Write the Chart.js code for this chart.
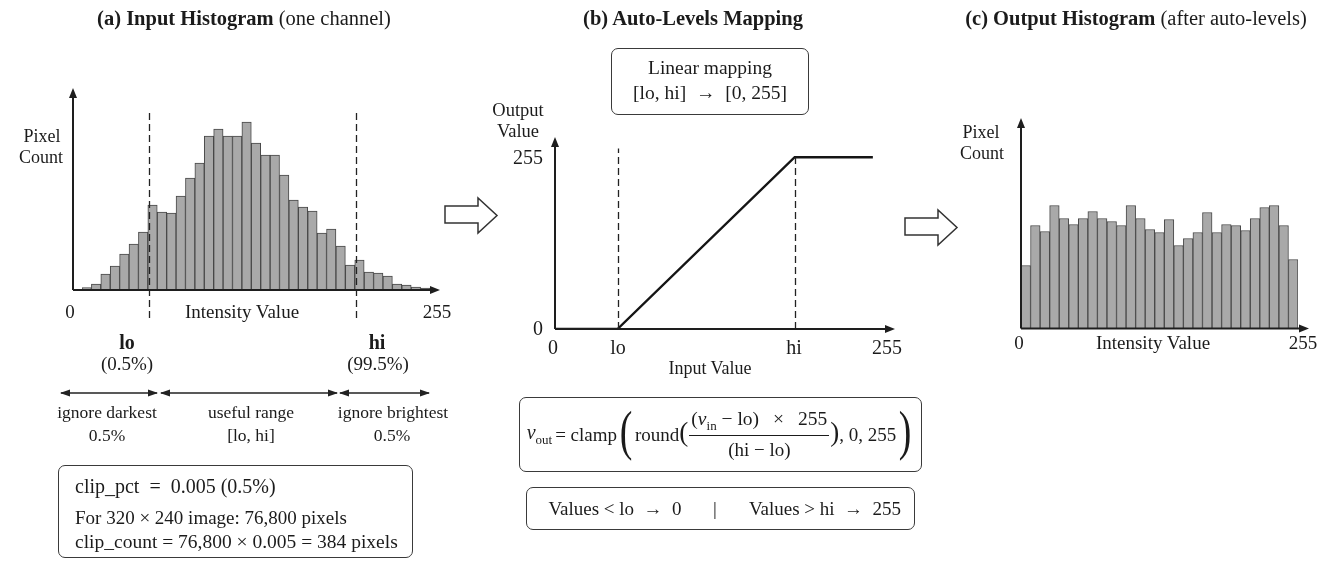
<!DOCTYPE html>
<html>
<head>
<meta charset="utf-8">
<script src="https://cdn.jsdelivr.net/npm/chart.js@4.4.1/dist/chart.umd.min.js"></script>
<style>
  body { margin: 0; background: #fff; }
  #page { position: relative; width: 1317px; height: 561px; overflow: hidden;
          font-family: "Liberation Serif", "Times New Roman", serif; color: #1b1b1b; }
  .cv { position: absolute; }
  .lbl { position: absolute; transform: translate(-50%, -50%); white-space: nowrap; line-height: 1; font-size: 19px; }
  .left { transform: translate(0, -50%); }
  .box { position: absolute; border: 1.5px solid #3a3a3a; border-radius: 7px; box-sizing: border-box; }
  #formulaBox { display: flex; align-items: center; justify-content: center; font-size: 19px; white-space: nowrap; }
  .bigp { font-size: 54px; line-height: 1; transform: scaleX(0.7); margin-top: -8px; }
  .midp { font-size: 27px; line-height: 1; margin-top: -4px; }
  .frac { display: inline-flex; flex-direction: column; align-items: center; margin: 0 1px; }
  .num { display: flex; justify-content: space-between; width: 136px; font-size: 19.5px;
         border-bottom: 1.2px solid #1b1b1b; padding: 0 2px 2px; }
  .den { padding-top: 3px; font-size: 19px; }
  sub { font-size: 13px; }
  svg { position: absolute; left: 0; top: 0; }
</style>
</head>
<body>
<div id="page">
  <canvas id="histIn" class="cv" width="390" height="240" style="left:60px;top:80px"></canvas>
  <canvas id="mapping" class="cv" width="370" height="210" style="left:540px;top:130px"></canvas>
  <canvas id="histOut" class="cv" width="317" height="230" style="left:1000px;top:110px"></canvas>

  <svg width="1317" height="561">
    <defs>
      <marker id="ah" viewBox="0 0 10 10" refX="9" refY="5" markerWidth="10" markerHeight="10" orient="auto-start-reverse" markerUnits="userSpaceOnUse">
        <path d="M0,1.5 L10,5 L0,8.5 z" fill="#222"/>
      </marker>
    </defs>
    <polygon points="445,206 478,206 478,198 497,215.5 478,233 478,223 445,223" fill="#fff" stroke="#333" stroke-width="1.5"/>
    <polygon points="905,218 938,218 938,210 957,227.5 938,245 938,235 905,235" fill="#fff" stroke="#333" stroke-width="1.5"/>
    <line x1="61" y1="393" x2="157" y2="393" stroke="#222" stroke-width="1.4" marker-start="url(#ah)" marker-end="url(#ah)"/>
    <line x1="161" y1="393" x2="337" y2="393" stroke="#222" stroke-width="1.4" marker-start="url(#ah)" marker-end="url(#ah)"/>
    <line x1="340" y1="393" x2="429" y2="393" stroke="#222" stroke-width="1.4" marker-start="url(#ah)" marker-end="url(#ah)"/>
  </svg>

  <div class="box" style="left:58px;top:465px;width:355px;height:93px"></div>
  <div class="box" style="left:611px;top:48px;width:198px;height:67px"></div>
  <div class="box" id="formulaBox" style="left:519px;top:397px;width:403px;height:75px">
    <span style="font-size:20px"><i>v</i><sub>out</sub></span>
    <span style="margin-left:3px">= clamp</span>
    <span class="bigp">(</span>
    <span>round</span><span class="midp">(</span>
    <span class="frac">
      <span class="num"><span>(<i>v</i><sub>in</sub> − lo)</span><span>×</span><span>255</span></span>
      <span class="den">(hi − lo)</span>
    </span>
    <span class="midp">)</span><span>, 0, 255</span>
    <span class="bigp">)</span>
  </div>
  <div class="box" style="left:526px;top:487px;width:389px;height:43px"></div>
</div>

<script>
// ----- Data -----
// (a) input histogram, one bar per bin (relative pixel counts)
const inputCounts = [2.5, 6, 16, 24, 36, 46, 58, 85, 78, 77, 94, 112, 127, 154, 161, 154, 154, 168, 147,
                     135, 135, 115, 90, 83, 79, 57, 61, 44, 25, 30, 18, 17, 14, 6, 5, 3, 2];
const inputMax = 202;
const loIn = 33.5, hiIn = 215;        // clip points on the 0..255 intensity axis

// (b) auto-levels mapping curve
const mapInput = [0, 48, 184, 244];
const mapOutput = [0, 0, 255, 255];
const loMap = 48, hiMap = 184;

// (c) output histogram after auto-levels
const outputCounts = [63, 103, 97, 123, 110, 104, 110, 117, 110, 107, 103, 123, 110, 99, 96, 109, 83, 90, 96,
                      116, 96, 104, 103, 98, 110, 121, 123, 103, 69];
const outputMax = 210.5;

const barFill = "#a9a9a9";
const barEdge = "#484848";

// ----- Text labels -----
// [text, x, y, extra style]
const labels = [
  ["<b>(a) Input Histogram</b> (one channel)", 244, 18, "font-size:20.5px"],
  ["<b>(b) Auto-Levels Mapping</b>", 693, 18, "font-size:20.5px"],
  ["<b>(c) Output Histogram</b> (after auto-levels)", 1136, 18, "font-size:20.5px"],

  ["Pixel", 42, 136, "font-size:18px"], ["Count", 41, 157, "font-size:18px"],
  ["0", 70, 311, ""], ["Intensity Value", 242, 311, ""], ["255", 437, 311, ""],
  ["lo", 127, 342, "font-weight:bold;font-size:20px"], ["(0.5%)", 127, 363, ""],
  ["hi", 377, 342, "font-weight:bold;font-size:20px"], ["(99.5%)", 378, 363, ""],
  ["ignore darkest", 107, 413, "font-size:17.5px"], ["0.5%", 107, 436, "font-size:17.5px"],
  ["useful range", 251, 413, "font-size:17.5px"], ["[lo, hi]", 251, 436, "font-size:17.5px"],
  ["ignore brightest", 393, 413, "font-size:17.5px"], ["0.5%", 392, 436, "font-size:17.5px"],

  ["Linear mapping", 710, 68, "font-size:19.5px"], ["[lo, hi] &nbsp;→&nbsp; [0, 255]", 710, 93, "font-size:19.5px"],
  ["Output", 518, 110, "font-size:18.5px"], ["Value", 518, 131, "font-size:18.5px"],
  ["255", 528, 157, "font-size:20px"], ["0", 538, 328, "font-size:20px"],
  ["0", 553, 347, "font-size:20px"], ["lo", 618, 347, "font-size:20px"], ["hi", 794, 347, "font-size:20px"],
  ["255", 887, 347, "font-size:20px"],
  ["Input Value", 710, 368, "font-size:18px"],

  ["Values &lt; lo &nbsp;→&nbsp; 0", 615, 508, ""],
  ["|", 715, 508, ""],
  ["Values &gt; hi &nbsp;→&nbsp; 255", 825, 508, ""],

  ["Pixel", 981, 132, "font-size:18px"], ["Count", 982, 153, "font-size:18px"],
  ["0", 1019, 342, ""], ["Intensity Value", 1153, 342, ""], ["255", 1303, 342, ""]
];
const boxLines = [
  ["clip_pct &nbsp;= &nbsp;0.005 (0.5%)", 75, 486, "font-size:20px"],
  ["For 320 × 240 image: 76,800 pixels", 75, 517, ""],
  ["clip_count = 76,800 × 0.005 = 384 pixels", 75, 542, "font-size:19.5px"]
];

const page = document.getElementById("page");
labels.forEach(([t, x, y, st]) => addLabel(t, x, y, st, ""));
boxLines.forEach(([t, x, y, st]) => addLabel(t, x, y, st, "left"));

function addLabel(text, x, y, style, cls) {
  const d = document.createElement("div");
  d.className = "lbl " + cls;
  d.style.cssText = `left:${x}px;top:${y}px;${style}`;
  d.innerHTML = text;
  page.appendChild(d);
}

// ----- Plugins -----
function arrowHead(ctx, x, y, dir) {
  ctx.beginPath();
  if (dir === "up") { ctx.moveTo(x, y); ctx.lineTo(x - 4, y + 10); ctx.lineTo(x + 4, y + 10); }
  else { ctx.moveTo(x, y); ctx.lineTo(x - 10, y - 4); ctx.lineTo(x - 10, y + 4); }
  ctx.closePath();
  ctx.fill();
}

const axisArrows = {
  id: "axisArrows",
  afterDatasetsDraw(chart, args, opts) {
    const { ctx, chartArea: a } = chart;
    const ox = a.left - (opts.gapLeft || 0);
    const tipX = a.right + (opts.extendRight || 0);
    ctx.save();
    ctx.strokeStyle = "#1e1e1e";
    ctx.fillStyle = "#1e1e1e";
    ctx.lineWidth = 2;
    ctx.beginPath();
    ctx.moveTo(ox, a.bottom); ctx.lineTo(ox, a.top + 8);
    ctx.moveTo(ox, a.bottom); ctx.lineTo(tipX - 8, a.bottom);
    ctx.stroke();
    arrowHead(ctx, ox, a.top, "up");
    arrowHead(ctx, tipX, a.bottom, "right");
    ctx.restore();
  }
};

const dashLines = {
  id: "dashLines",
  afterDatasetsDraw(chart, args, opts) {
    if (!opts.lines) return;
    const { ctx } = chart;
    const xs = chart.scales[opts.xScale || "x"], ys = chart.scales.y;
    ctx.save();
    ctx.setLineDash([7, 4]);
    ctx.strokeStyle = "#222";
    ctx.lineWidth = 1.3;
    opts.lines.forEach(l => {
      const px = Math.round(xs.getPixelForValue(l.x)) + 0.5;
      ctx.beginPath();
      ctx.moveTo(px, ys.getPixelForValue(l.from));
      ctx.lineTo(px, ys.getPixelForValue(l.to));
      ctx.stroke();
    });
    ctx.restore();
  }
};

const quiet = { legend: { display: false }, tooltip: { enabled: false } };

// ----- Charts -----
new Chart(document.getElementById("histIn"), {
  type: "bar",
  data: {
    labels: inputCounts.map((_, i) => String(i)),
    datasets: [{ data: inputCounts, backgroundColor: barFill, borderColor: barEdge, borderWidth: 1,
                 barPercentage: 1, categoryPercentage: 1 }]
  },
  options: {
    responsive: false, animation: false,
    layout: { padding: { left: 22, right: 20, top: 8, bottom: 30 } },
    scales: {
      x: { display: false },
      xi: { type: "linear", axis: "x", display: false, min: 0, max: 255 },
      y: { display: false, min: 0, max: inputMax }
    },
    plugins: Object.assign({}, quiet, {
      axisArrows: { gapLeft: 9, extendRight: 10 },
      dashLines: { xScale: "xi", lines: [{ x: loIn, from: -28, to: 178 }, { x: hiIn, from: -28, to: 178 }] }
    })
  },
  plugins: [dashLines, axisArrows]
});

new Chart(document.getElementById("mapping"), {
  type: "scatter",
  data: {
    datasets: [{ data: mapInput.map((x, i) => ({ x, y: mapOutput[i] })), showLine: true,
                 borderColor: "#151515", borderWidth: 2.4, pointRadius: 0, tension: 0 }]
  },
  options: {
    responsive: false, animation: false,
    layout: { padding: { left: 15, right: 15, top: 7, bottom: 11 } },
    scales: {
      x: { type: "linear", display: false, min: 0, max: 261 },
      y: { display: false, min: 0, max: 285 }
    },
    plugins: Object.assign({}, quiet, {
      axisArrows: { gapLeft: 0, extendRight: 0 },
      dashLines: { lines: [{ x: loMap, from: 0, to: 268 }, { x: hiMap, from: 0, to: 255 }] }
    })
  },
  plugins: [dashLines, axisArrows]
});

new Chart(document.getElementById("histOut"), {
  type: "bar",
  data: {
    labels: outputCounts.map((_, i) => String(i)),
    datasets: [{ data: outputCounts, backgroundColor: barFill, borderColor: barEdge, borderWidth: 1,
                 barPercentage: 1, categoryPercentage: 1 }]
  },
  options: {
    responsive: false, animation: false,
    layout: { padding: { left: 21, right: 19, top: 8, bottom: 11.5 } },
    scales: {
      x: { display: false },
      y: { display: false, min: 0, max: outputMax }
    },
    plugins: Object.assign({}, quiet, { axisArrows: { gapLeft: 0, extendRight: 11 } })
  },
  plugins: [axisArrows]
});
</script>
</body>
</html>
